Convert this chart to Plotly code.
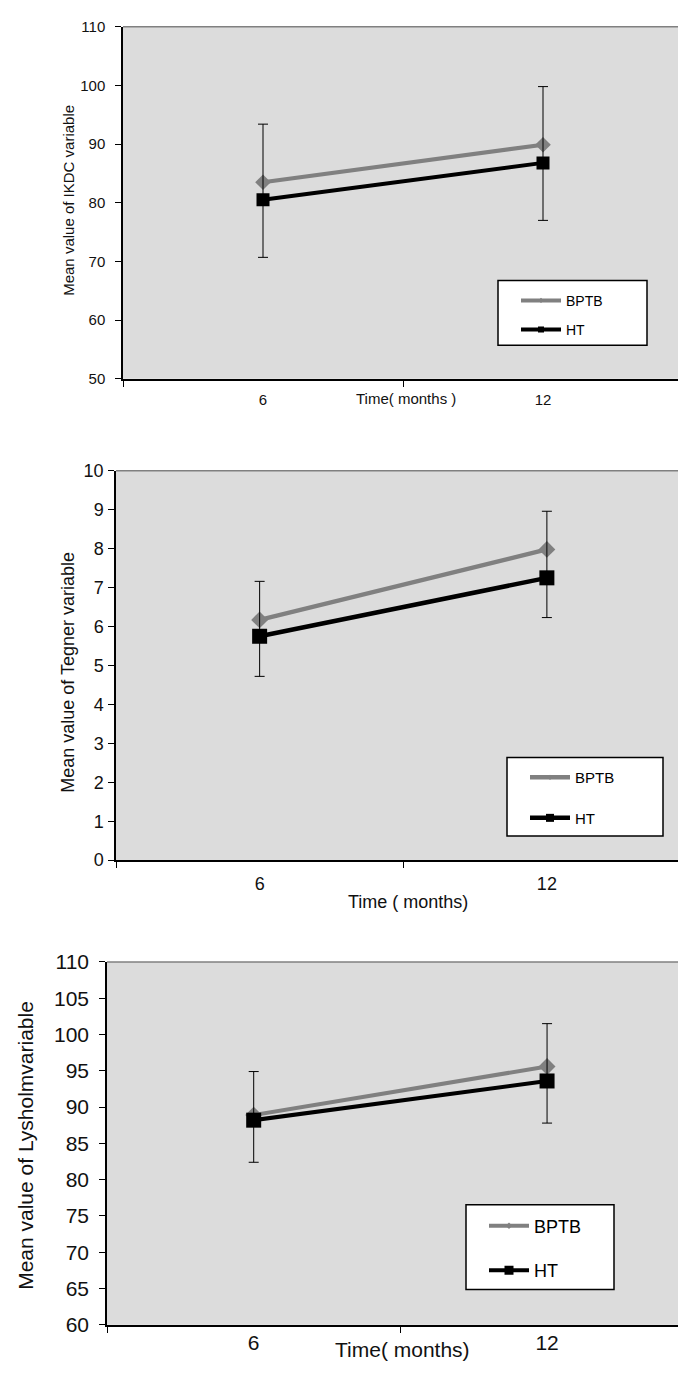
import plotly.graph_objects as go

W, H = 678, 1385

# ---------------- data ----------------
time_labels = ["6", "12"]
time_pos = [1, 2]

ikdc_bptb = [83.5, 89.9]
ikdc_ht = [80.5, 86.8]
ikdc_err_hi = [93.4, 99.8]
ikdc_err_lo = [70.7, 77.0]
ikdc_ticks = [50, 60, 70, 80, 90, 100, 110]

tegner_bptb = [6.17, 7.98]
tegner_ht = [5.75, 7.25]
tegner_err_hi = [7.16, 8.96]
tegner_err_lo = [4.72, 6.23]
tegner_ticks = [0, 1, 2, 3, 4, 5, 6, 7, 8, 9, 10]

lysholm_bptb = [88.9, 95.6]
lysholm_ht = [88.2, 93.6]
lysholm_err_hi = [94.9, 101.5]
lysholm_err_lo = [82.4, 87.8]
lysholm_ticks = [60, 65, 70, 75, 80, 85, 90, 95, 100, 105, 110]

series_names = ["BPTB", "HT"]
x_titles = ["Time( months )", "Time ( months)", "Time( months)"]
y_titles = ["Mean value of IKDC variable", "Mean value of Tegner variable",
            "Mean value of Lysholmvariable"]

# ---------------- layout (pixel geometry) ----------------
FONT = "Liberation Sans, Arial, sans-serif"
GRAY = "#808080"
BG = "#dcdcdc"

panels = [
    dict(bptb=ikdc_bptb, ht=ikdc_ht, hi=ikdc_err_hi, lo=ikdc_err_lo, ticks=ikdc_ticks,
         left=123, x6=263, band=280, top=15, bot=373, fs=15, tstand=7, xstand=6,
         ytitle_xy=(69, 192), ytitle_fs=15, xtitle_xy=(406, 393), xtitle_fs=15,
         box=(498, 273, 647, 339), leg_fs=14, row1=293, gap=8,
         lw=4, dsz=12, ssz=13, ldsz=4, lssz=6),
    dict(bptb=tegner_bptb, ht=tegner_ht, hi=tegner_err_hi, lo=tegner_err_lo, ticks=tegner_ticks,
         left=116, x6=260, band=287, top=466.5, bot=862.5, fs=18, tstand=1, xstand=6,
         ytitle_xy=(68, 672), ytitle_fs=18, xtitle_xy=(408, 905), xtitle_fs=18,
         box=(507, 758, 663, 838), leg_fs=15, row1=778, gap=18,
         lw=4.5, dsz=13, ssz=15, ldsz=4, lssz=8),
    dict(bptb=lysholm_bptb, ht=lysholm_ht, hi=lysholm_err_hi, lo=lysholm_err_lo, ticks=lysholm_ticks,
         left=107, x6=253.5, band=293.5, top=966, bot=1335, fs=21, tstand=6, xstand=-2,
         ytitle_xy=(26, 1153), ytitle_fs=21, xtitle_xy=(402, 1360), xtitle_fs=21,
         box=(466, 1213, 614, 1299), leg_fs=18, row1=1234, gap=18,
         lw=4, dsz=13, ssz=15, ldsz=5, lssz=9),
]

fig = go.Figure()
shapes = []
annotations = []
layout_axes = {}

for i, p in enumerate(panels):
    n = "" if i == 0 else str(i + 1)
    xa, ya = "x" + n, "y" + n
    leg = "legend" + n

    # main series
    fig.add_trace(go.Scatter(
        x=time_pos, y=p["bptb"], mode="lines+markers", name=series_names[0],
        line=dict(color=GRAY, width=p["lw"]),
        marker=dict(symbol="diamond", size=p["dsz"], color=GRAY),
        xaxis=xa, yaxis=ya, showlegend=False, hoverinfo="x+y"))
    fig.add_trace(go.Scatter(
        x=time_pos, y=p["ht"], mode="lines+markers", name=series_names[1],
        line=dict(color="black", width=p["lw"]),
        marker=dict(symbol="square", size=p["ssz"], color="black"),
        error_y=dict(type="data", symmetric=False,
                     array=[h - v for h, v in zip(p["hi"], p["ht"])],
                     arrayminus=[v - l for v, l in zip(p["ht"], p["lo"])],
                     color="black", thickness=1, width=5),
        xaxis=xa, yaxis=ya, showlegend=False, hoverinfo="x+y"))

    # legend entries (small symbols like the original legend)
    fig.add_trace(go.Scatter(
        x=[None], y=[None], mode="lines+markers", name=series_names[0],
        line=dict(color=GRAY, width=p["lw"]),
        marker=dict(symbol="diamond", size=p["ldsz"], color=GRAY),
        xaxis=xa, yaxis=ya, legend=leg, legendgroup=f"b{i}", showlegend=True))
    fig.add_trace(go.Scatter(
        x=[None], y=[None], mode="lines+markers", name=series_names[1],
        line=dict(color="black", width=p["lw"]),
        marker=dict(symbol="square", size=p["lssz"], color="black"),
        xaxis=xa, yaxis=ya, legend=leg, legendgroup=f"h{i}", showlegend=True))

    tfont = dict(family=FONT, size=p["fs"], color="#111111")
    layout_axes["xaxis" + n] = dict(
        domain=[p["left"] / W, 1.0],
        range=[0.5, 1 + (W - p["x6"]) / p["band"]],
        tickmode="array", tickvals=time_pos, ticktext=time_labels, ticks="",
        ticklabelstandoff=p["xstand"],
        minor=dict(tickmode="array", tickvals=[0.5, 1.5, 2.5], ticks="outside",
                   ticklen=6, tickwidth=1, tickcolor="black", showgrid=False),
        showline=True, linecolor="black", linewidth=1.5,
        showgrid=False, zeroline=False, anchor=ya, tickfont=tfont, fixedrange=True)
    layout_axes["yaxis" + n] = dict(
        domain=[1 - p["bot"] / H, 1 - p["top"] / H],
        range=[p["ticks"][0], p["ticks"][-1]],
        tickmode="array", tickvals=p["ticks"], ticks="outside", ticklen=6,
        tickwidth=1, tickcolor="black", ticklabelstandoff=p["tstand"],
        showline=True, linecolor="black", linewidth=1.5,
        showgrid=False, zeroline=False, anchor=xa, tickfont=tfont, fixedrange=True)

    # top border of the plot area
    shapes.append(dict(type="line", xref=xa + " domain", yref=ya + " domain",
                       x0=0, x1=1, y0=1, y1=1, line=dict(color=GRAY, width=1.5),
                       layer="below"))
    # legend box
    bx0, by0, bx1, by1 = p["box"]
    shapes.append(dict(type="rect", xref="paper", yref="paper",
                       x0=bx0 / W, x1=bx1 / W, y0=1 - by1 / H, y1=1 - by0 / H,
                       fillcolor="white", line=dict(color="black", width=1.5),
                       layer="above"))

    item_h = p["leg_fs"] * 1.3 + 3
    layout_axes[leg] = dict(
        x=(bx0 + 18) / W, y=1 - (p["row1"] - item_h / 2 - 5) / H,
        xanchor="left", yanchor="top", bgcolor="rgba(0,0,0,0)", borderwidth=0,
        font=dict(family=FONT, size=p["leg_fs"], color="black"),
        tracegroupgap=p["gap"], itemwidth=40, itemclick=False, itemdoubleclick=False)

    # axis titles
    tx, ty = p["xtitle_xy"]
    annotations.append(dict(text=x_titles[i], xref="paper", yref="paper",
                            x=tx / W, y=1 - ty / H, xanchor="center", yanchor="middle",
                            showarrow=False,
                            font=dict(family=FONT, size=p["xtitle_fs"], color="#111111")))
    yx, yy = p["ytitle_xy"]
    annotations.append(dict(text=y_titles[i], xref="paper", yref="paper",
                            x=yx / W, y=1 - yy / H, xanchor="center", yanchor="middle",
                            textangle=-90, showarrow=False,
                            font=dict(family=FONT, size=p["ytitle_fs"], color="#111111")))

fig.update_layout(
    width=W, height=H, margin=dict(l=0, r=0, t=0, b=0),
    paper_bgcolor="white", plot_bgcolor=BG,
    font=dict(family=FONT, color="#111111"),
    shapes=shapes, annotations=annotations,
    **layout_axes)

# remove the default page margin so the figure fills the browser window exactly
fig.write_html("out.html",
               config={"displayModeBar": False},
               post_script="document.body.style.margin='0';"
                           "document.body.style.overflow='hidden';")
